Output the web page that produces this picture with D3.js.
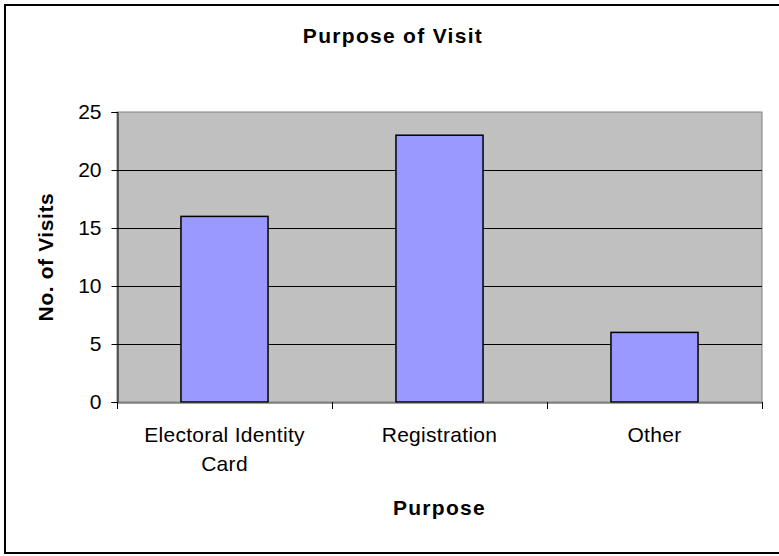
<!DOCTYPE html>
<html>
<head>
<meta charset="utf-8">
<script src="https://cdn.jsdelivr.net/npm/d3@7"></script>
<style>
  body { margin: 0; background: #fff; }
  svg { display: block; font-family: Arial, "Liberation Sans", sans-serif; }
</style>
</head>
<body>
<div id="chart"></div>
<script>
// Chart data
const categories = ['Electoral Identity Card', 'Registration', 'Other'];
const tickLines = [['Electoral Identity', 'Card'], ['Registration'], ['Other']];
const visits = [16, 23, 6];
const yTicks = [0, 5, 10, 15, 20, 25];

const W = 779, H = 556;
const plot = { left: 117, top: 112, right: 762, bottom: 402 };

const svg = d3.select('#chart').append('svg')
    .attr('width', W)
    .attr('height', H);

// Outer chart border (runs off the right edge like the original)
svg.append('rect')
    .attr('x', 5).attr('y', 5)
    .attr('width', W + 10).attr('height', 548)
    .attr('fill', '#fff')
    .attr('stroke', '#000')
    .attr('stroke-width', 2);

// Scales
const x = d3.scaleBand()
    .domain(categories)
    .range([plot.left, plot.right])
    .paddingInner(0)
    .paddingOuter(0);

const y = d3.scaleLinear()
    .domain([0, 25])
    .range([plot.bottom, plot.top]);

// Plot background
svg.append('rect')
    .attr('x', plot.left).attr('y', plot.top)
    .attr('width', plot.right - plot.left)
    .attr('height', plot.bottom - plot.top)
    .attr('fill', '#c0c0c0')
    .attr('stroke', '#808080')
    .attr('stroke-width', 1);

// Gridlines
svg.append('g')
    .selectAll('line')
    .data(yTicks.filter(d => d > 0 && d < 25))
    .enter()
    .append('line')
    .attr('x1', plot.left).attr('x2', plot.right)
    .attr('y1', d => Math.round(y(d)) + 0.5)
    .attr('y2', d => Math.round(y(d)) + 0.5)
    .attr('stroke', '#000')
    .attr('stroke-width', 1);

// Bars
const barW = x.bandwidth() * 0.405;
svg.append('g')
    .selectAll('rect')
    .data(visits)
    .enter()
    .append('rect')
    .attr('x', (d, i) => x(categories[i]) + (x.bandwidth() - barW) / 2)
    .attr('y', d => y(d))
    .attr('width', barW)
    .attr('height', d => y(0) - y(d))
    .attr('fill', '#9999ff')
    .attr('stroke', '#000')
    .attr('stroke-width', 1.5);

// Y axis
const yAxis = svg.append('g')
    .attr('transform', `translate(${plot.left + 0.5},0)`)
    .call(d3.axisLeft(y).tickValues(yTicks).tickSize(6).tickPadding(10).tickFormat(d3.format('d')));
yAxis.select('.domain').attr('stroke', '#000');
yAxis.selectAll('.tick line').attr('stroke', '#000');
yAxis.selectAll('.tick text')
    .attr('font-size', 21)
    .attr('fill', '#000')
    .attr('font-family', 'Arial, "Liberation Sans", sans-serif');

// X axis
const xAxis = svg.append('g')
    .attr('transform', `translate(0,${plot.bottom + 0.5})`)
    .call(d3.axisBottom(x).tickSize(0).tickFormat(''));
xAxis.select('.domain').attr('stroke', '#404040');

// Category boundary ticks
svg.append('g')
    .selectAll('line')
    .data(categories.concat(['end']))
    .enter()
    .append('line')
    .attr('x1', (d, i) => Math.round(plot.left + i * x.bandwidth()) + 0.5)
    .attr('x2', (d, i) => Math.round(plot.left + i * x.bandwidth()) + 0.5)
    .attr('y1', plot.bottom)
    .attr('y2', plot.bottom + 7)
    .attr('stroke', '#000');

// Category labels
svg.append('g')
    .selectAll('text')
    .data(categories)
    .enter()
    .append('text')
    .attr('text-anchor', 'middle')
    .attr('font-size', 21)
    .attr('letter-spacing', 0.3)
    .attr('fill', '#000')
    .attr('x', d => x(d) + x.bandwidth() / 2)
    .attr('y', 442)
    .each(function(d, i) {
        const t = d3.select(this);
        tickLines[i].forEach((line, j) => {
            t.append('tspan')
                .attr('x', x(d) + x.bandwidth() / 2)
                .attr('dy', j === 0 ? 0 : 29)
                .text(line);
        });
    });

// Title
svg.append('text')
    .attr('x', 393).attr('y', 43)
    .attr('text-anchor', 'middle')
    .attr('font-size', 21)
    .attr('font-weight', 'bold')
    .attr('letter-spacing', 1.3)
    .text('Purpose of Visit');

// X axis title
svg.append('text')
    .attr('x', (plot.left + plot.right) / 2).attr('y', 515)
    .attr('text-anchor', 'middle')
    .attr('font-size', 21)
    .attr('font-weight', 'bold')
    .attr('letter-spacing', 1.3)
    .text('Purpose');

// Y axis title
svg.append('text')
    .attr('transform', `translate(53,${(plot.top + plot.bottom) / 2}) rotate(-90)`)
    .attr('text-anchor', 'middle')
    .attr('font-size', 21)
    .attr('font-weight', 'bold')
    .attr('letter-spacing', 0.6)
    .text('No. of Visits');
</script>
</body>
</html>
